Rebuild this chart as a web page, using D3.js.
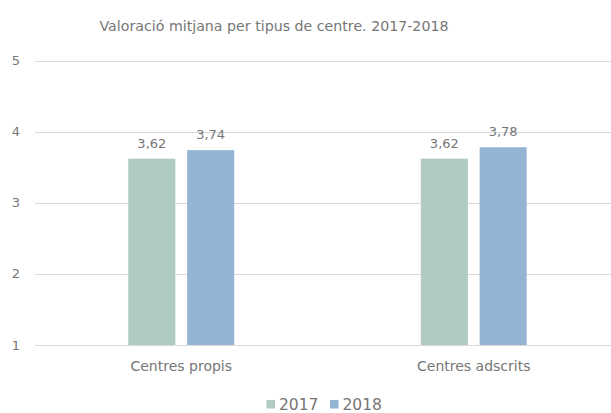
<!DOCTYPE html>
<html>
<head>
<meta charset="utf-8">
<script src="https://cdn.jsdelivr.net/npm/d3@7"></script>
<style>
  body { margin: 0; background: #fff; }
  svg { display: block; font-family: "DejaVu Sans", sans-serif; }
</style>
</head>
<body>
<div id="chart"></div>
<script>
var categories = ['Centres propis', 'Centres adscrits'];
var years = ['2017', '2018'];
var values2017 = [3.62, 3.62];
var values2018 = [3.74, 3.78];
var yTicks = [1, 2, 3, 4, 5];
var colors = ['#b0cbc3', '#94b4d4'];
var textColor = '#767676';

var fmt = v => v.toFixed(2).replace('.', ',');

function drawChart() {
    var svg = d3
        .select('#chart')
        .append('svg')
        .attr('width', 611)
        .attr('height', 413);

    var rows = categories.map((c, i) => ({
        cat: c,
        vals: [values2017[i], values2018[i]]
    }));

    var x0 = d3
        .scaleBand()
        .domain(categories)
        .range([35, 620])
        .paddingInner(0.638)
        .paddingOuter(0.319);

    var x1 = d3
        .scaleBand()
        .domain(years)
        .range([0, x0.bandwidth()])
        .paddingInner(0.2);

    var y = d3.scaleLinear().domain([1, 5]).range([345, 60.5]);

    // grid lines
    svg
        .append('g')
        .selectAll('line')
        .data(yTicks)
        .join('line')
        .attr('x1', 35)
        .attr('x2', 620)
        .attr('y1', d => Math.round(y(d)) + 0.5)
        .attr('y2', d => Math.round(y(d)) + 0.5)
        .attr('stroke', '#d9d9d9')
        .attr('stroke-width', 1);

    // y axis labels
    svg
        .append('g')
        .selectAll('text')
        .data(yTicks)
        .join('text')
        .attr('x', 20)
        .attr('y', d => y(d))
        .attr('dy', '0.35em')
        .attr('text-anchor', 'end')
        .attr('font-size', 13)
        .attr('fill', textColor)
        .text(d => d);

    var groups = svg
        .append('g')
        .selectAll('g')
        .data(rows)
        .join('g')
        .attr('transform', d => `translate(${x0(d.cat)},0)`);

    groups
        .selectAll('rect')
        .data(d => d.vals.map((v, i) => ({ year: years[i], v: v, i: i })))
        .join('rect')
        .attr('x', d => x1(d.year))
        .attr('y', d => y(d.v))
        .attr('width', x1.bandwidth())
        .attr('height', d => y(1) - y(d.v))
        .attr('fill', d => colors[d.i]);

    groups
        .selectAll('text')
        .data(d => d.vals.map((v, i) => ({ year: years[i], v: v })))
        .join('text')
        .attr('x', d => x1(d.year) + x1.bandwidth() / 2)
        .attr('y', d => y(d.v) - 11)
        .attr('text-anchor', 'middle')
        .attr('font-size', 13)
        .attr('fill', textColor)
        .text(d => fmt(d.v));

    // category labels
    svg
        .append('g')
        .selectAll('text')
        .data(categories)
        .join('text')
        .attr('x', d => x0(d) + x0.bandwidth() / 2)
        .attr('y', 371)
        .attr('text-anchor', 'middle')
        .attr('font-size', 14)
        .attr('fill', textColor)
        .text(d => d);

    // title
    svg
        .append('text')
        .attr('x', 274)
        .attr('y', 31)
        .attr('text-anchor', 'middle')
        .attr('font-size', 14.2)
        .attr('fill', textColor)
        .text('Valoració mitjana per tipus de centre. 2017-2018');

    // legend
    var legend = svg
        .append('g')
        .selectAll('g')
        .data(years)
        .join('g')
        .attr('transform', (d, i) => `translate(${266.5 + i * 63.5},0)`);

    legend
        .append('rect')
        .attr('x', 0)
        .attr('y', 400)
        .attr('width', 8.5)
        .attr('height', 8.5)
        .attr('fill', (d, i) => colors[i]);

    legend
        .append('text')
        .attr('x', 12.5)
        .attr('y', 410)
        .attr('font-size', 15.5)
        .attr('fill', textColor)
        .text(d => d);
}

drawChart();
</script>
</body>
</html>
